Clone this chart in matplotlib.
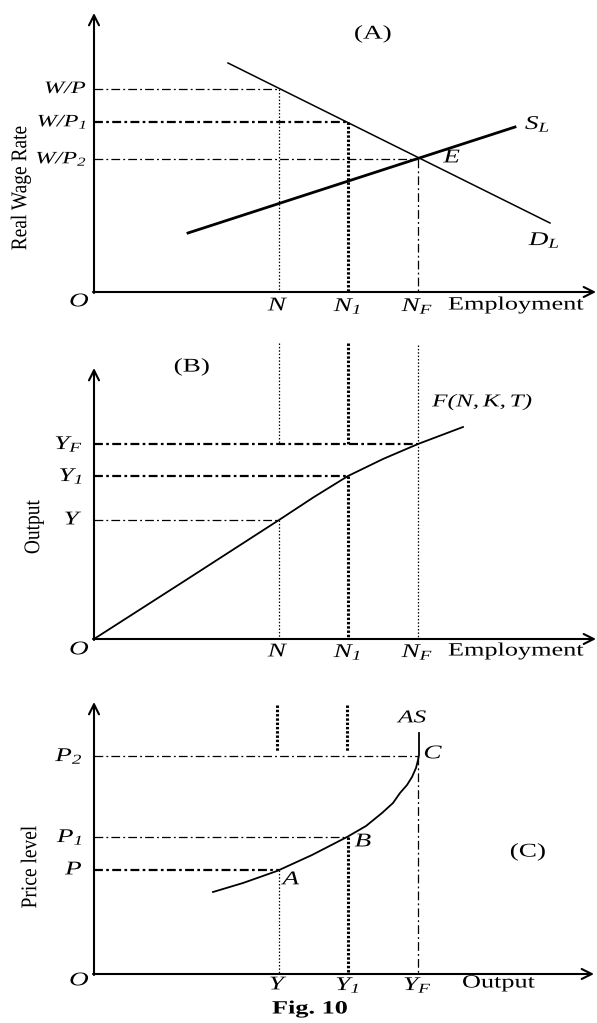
import matplotlib
matplotlib.use('Agg')
import matplotlib.pyplot as plt
from matplotlib.patheffects import AbstractPathEffect
from matplotlib.transforms import Affine2D

plt.rcParams['font.family'] = 'Liberation Serif'
plt.rcParams['mathtext.fontset'] = 'custom'
# every symbol in the labels is set in italic, digits and brackets included
plt.rcParams['mathtext.rm'] = 'Liberation Serif:italic'
plt.rcParams['mathtext.it'] = 'Liberation Serif:italic'
plt.rcParams['mathtext.bf'] = 'Liberation Serif:bold'

W, H = 597, 1023
WIDE = 1.4       # the lettering of the figure is drawn wide
WIDE_ROT = 1.15  # the same for the upright axis titles

# columns shared by the three panels: N, N1, NF  (Y, Y1, YF in panel C)
col_x = [279, 348, 418]
emp_lbl = [r'$N$', r'$N_1$', r'$N_F$']
yc_lbl = [r'$Y$', r'$Y_1$', r'$Y_F$']

# panel A: labour market
a_origin = (94, 292)
a_top = 13
wage_y = [89, 122, 159]
wage_lbl = [r'$W/P$', r'$W/P_1$', r'$W/P_2$']
dl_x = [228, 550]
dl_y = [63, 223]
sl_x = [188, 515]
sl_y = [233, 127]

# panel B: production function
b_origin = (94, 639)
b_top = 368
out_y = [520, 476, 444]
out_lbl = [r'$Y$', r'$Y_1$', r'$Y_F$']
prod_x = [94, 186, 279, 314, 348, 383, 418, 463]
prod_y = [639, 580, 520, 497, 476, 459, 444, 427]

# panel C: aggregate supply
c_origin = (94, 974)
c_top = 702
price_y = [870, 837, 756]
price_lbl = [r'$P$', r'$P_1$', r'$P_2$']
as_x = [213, 243, 277, 312, 347, 366, 382, 393, 400, 407, 412, 416, 418, 419, 419]
as_y = [892, 883, 871, 855, 837, 826, 813, 803, 793, 785, 777, 768, 760, 755, 733]

# line styles
THIN_DD = dict(color='black', lw=0.9, ls=(0, (7, 2.5, 1.5, 2.5)))
THICK_DD = dict(color='black', lw=1.6, ls=(0, (4, 1.5, 1.2, 1.5)))
THIN_DOT = dict(color='black', lw=0.9, ls=(0, (1.2, 1.5)))
THICK_DOT = dict(color='black', lw=2.2, ls=(0, (0.8, 0.6)))


class Widen(AbstractPathEffect):
    """Stretch a text horizontally about its anchor point."""

    def __init__(self, text, sx):
        super().__init__()
        self.text = text
        self.sx = sx

    def draw_path(self, renderer, gc, tpath, affine, rgbFace=None):
        x0 = self.text.get_transform().transform(self.text.get_position())[0]
        wide = affine + Affine2D().translate(-x0, 0).scale(self.sx, 1).translate(x0, 0)
        renderer.draw_path(gc, tpath, wide, rgbFace)


fig = plt.figure(figsize=(W / 100, H / 100), dpi=100)
ax = fig.add_axes([0, 0, 1, 1])
ax.set_xlim(0, W)
ax.set_ylim(H, 0)
ax.axis('off')


def label(x, y, s, size=14, ha='center', wide=WIDE, **kw):
    t = ax.text(x, y, s, fontsize=size, ha=ha, va='center', color='black', **kw)
    t.set_path_effects([Widen(t, wide)])
    return t


def axes_arrows(origin, top, right):
    ox, oy = origin
    kw = dict(arrowstyle='->', lw=1.5, color='black', mutation_scale=18,
              shrinkA=0, shrinkB=0)
    ax.annotate('', xy=(ox, top), xytext=(ox, oy + 1), arrowprops=kw)
    ax.annotate('', xy=(right, oy), xytext=(ox - 1, oy), arrowprops=kw)


def hline(y, x1, style, x0=94):
    ax.plot([x0, x1], [y, y], **style)


def vline(x, y0, y1, style):
    ax.plot([x, x], [y0, y1], **style)


# ---------------- (A) ----------------
axes_arrows(a_origin, a_top, 596)
hline(wage_y[0], col_x[0], THIN_DD)
hline(wage_y[1], col_x[1], THICK_DD)
hline(wage_y[2], col_x[2], THIN_DD)
vline(col_x[0], wage_y[0], a_origin[1], THIN_DOT)
vline(col_x[1], wage_y[1], a_origin[1], THICK_DOT)
vline(col_x[2], wage_y[2], a_origin[1], THIN_DD)
ax.plot(dl_x, dl_y, color='black', lw=1.1)
ax.plot(sl_x, sl_y, color='black', lw=2.0)

for y, s in zip(wage_y, wage_lbl):
    label(88, y, s, 12.5, ha='right')
for x, s in zip(col_x, emp_lbl):
    label(x, 306, s)
label(80, 302, r'$O$')
label(448, 305, 'Employment', 13.5, ha='left')
label(21, 188, 'Real Wage Rate', 14, rotation=90, wide=WIDE_ROT)
label(373, 34, '(A)')
label(453, 158, r'$E$')
label(538, 124, r'$S_L$')
label(545, 240, r'$D_L$')

# ---------------- (B) ----------------
axes_arrows(b_origin, b_top, 596)
hline(out_y[0], col_x[0], THIN_DD)
hline(out_y[1], col_x[1], THICK_DD)
hline(out_y[2], col_x[2], THICK_DD)
vline(col_x[0], 343, out_y[2], THIN_DOT)
vline(col_x[0], out_y[0], b_origin[1], THIN_DOT)
vline(col_x[1], 343, out_y[2], THICK_DOT)
vline(col_x[1], out_y[1], b_origin[1], THICK_DOT)
vline(col_x[2], 345, b_origin[1], THIN_DOT)
ax.plot(prod_x, prod_y, color='black', lw=1.3)

for y, s in zip(out_y, out_lbl):
    label(84, y, s, ha='right')
for x, s in zip(col_x, emp_lbl):
    label(x, 652, s)
label(80, 650, r'$O$')
label(448, 651, 'Employment', 13.5, ha='left')
label(34, 527, 'Output', 14, rotation=90, wide=WIDE_ROT)
label(192, 367, '(B)')
label(483, 402, r'$F(N,K,T)$', 13)

# ---------------- (C) ----------------
axes_arrows(c_origin, c_top, 594)
hline(price_y[0], col_x[0], THICK_DD)
hline(price_y[1], col_x[1], THIN_DD)
hline(price_y[2], col_x[2], THIN_DD)
vline(col_x[0] - 2, 705, 752, THICK_DOT)
vline(col_x[1] - 1, 705, 752, THICK_DOT)
vline(col_x[0], price_y[0], c_origin[1], THIN_DOT)
vline(col_x[1], price_y[1], c_origin[1], THICK_DOT)
vline(col_x[2], price_y[2], c_origin[1], THIN_DD)
ax.plot(as_x, as_y, color='black', lw=1.3)

for y, s in zip(price_y, price_lbl):
    label(84, y, s, ha='right')
for x, s in zip(col_x, yc_lbl):
    label(x, 985, s)
label(80, 981, r'$O$')
label(462, 983, 'Output', 13.5, ha='left')
label(31, 867, 'Price level', 14, rotation=90, wide=WIDE_ROT)
label(528, 852, '(C)')
label(414, 718, r'$AS$', 13)
label(434, 754, r'$C$')
label(364, 842, r'$B$')
label(293, 880, r'$A$')

label(310, 1009, 'Fig. 10', 13.5, fontweight='bold')

fig.savefig('out.png', dpi=100)
